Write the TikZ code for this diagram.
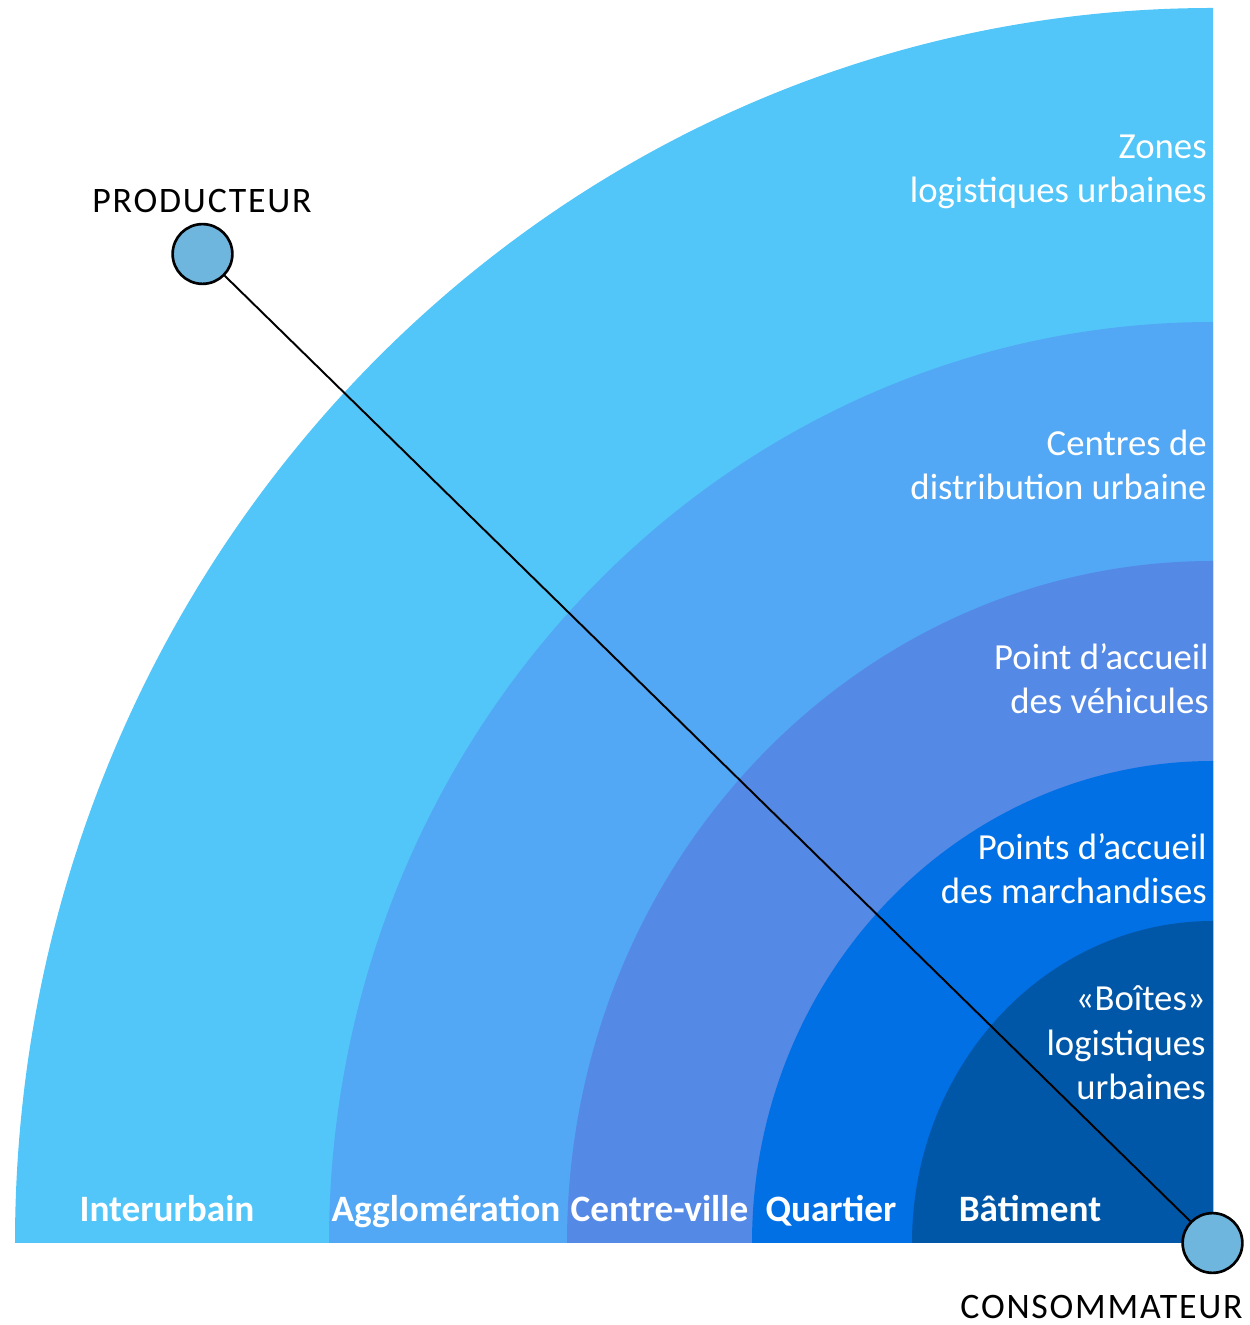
\documentclass[tikz,border=0pt]{standalone}
\usepackage{fontspec}
\setmainfont{Carlito}
\newfontfamily\spacedfont[LetterSpace=5]{Carlito}
\usepackage{xcolor}
\usetikzlibrary{positioning}

\definecolor{zoneblue}{RGB}{82,198,248}
\definecolor{agglblue}{RGB}{82,168,245}
\definecolor{centreblue}{RGB}{85,137,230}
\definecolor{quartblue}{RGB}{0,112,228}
\definecolor{batblue}{RGB}{0,87,168}
\definecolor{endblue}{RGB}{110,182,221}

\begin{document}
\begin{tikzpicture}[x=0.02cm, y=0.02cm,
    band/.style={draw=none},
    ringlabel/.style={text=white, align=right, anchor=base east, inner sep=0pt,
        font=\fontsize{20.9}{25.5}\selectfont},
    scalelabel/.style={text=white, anchor=base, inner sep=0pt,
        font=\fontsize{21.2}{25.5}\selectfont\bfseries},
    endpoint/.style={circle, draw, line width=1.5pt, fill=endblue, minimum size=34pt, inner sep=0pt},
    endlabel/.style={inner sep=0pt, font=\fontsize{20.4}{25.5}\spacedfont}]
    \useasboundingbox (0,0) rectangle (1250,1325);

    % Centre of the quarter rings
    \coordinate (c) at (1213,82);

    % Rings, outer to inner
    \fill[band, zoneblue]   (c) -- ++(-1198,0) arc[start angle=180, end angle=90, x radius=1198, y radius=1235] -- cycle;
    \fill[band, agglblue]   (c) -- ++(-884,0)  arc[start angle=180, end angle=90, x radius=884,  y radius=921]  -- cycle;
    \fill[band, centreblue] (c) -- ++(-646,0)  arc[start angle=180, end angle=90, x radius=646,  y radius=682]  -- cycle;
    \fill[band, quartblue]  (c) -- ++(-461,0)  arc[start angle=180, end angle=90, x radius=461,  y radius=482]  -- cycle;
    \fill[band, batblue]    (c) -- ++(-301,0)  arc[start angle=180, end angle=90, x radius=301,  y radius=322]  -- cycle;

    % Ring names (base = last line)
    \node[ringlabel] (zones)  at (1207,1122) {Zones\\logistiques urbaines};
    \node[ringlabel] (cdu)    at (1207,825)  {Centres de\\distribution urbaine};
    \node[ringlabel] (pav)    at (1209,611)  {Point d’accueil\\des véhicules};
    \node[ringlabel] (pam)    at (1207,421)  {Points d’accueil\\des marchandises};
    \node[ringlabel] (boites) at (1206,225)  {«Boîtes»\\logistiques\\urbaines};

    % Scale names along the bottom
    \node[scalelabel] (inter) at (167,103)   {Interurbain};
    \node[scalelabel] (agglo) at (446,103)   {Agglomération};
    \node[scalelabel] (cville) at (659.5,103) {Centre-ville};
    \node[scalelabel] (quart) at (831,103)   {Quartier};
    \node[scalelabel] (bat)   at (1030,103)  {Bâtiment};

    % Producer and consumer
    \node[endpoint] (prod) at (202.5,1071) {};
    \node[endpoint] (cons) at (1212.5,82) {};
    \node[endlabel, anchor=base] (prodlabel) at (202,1112) {PRODUCTEUR};
    \node[endlabel, anchor=base east] (conslabel) at (1243,7) {CONSOMMATEUR};

    \draw[line width=1.1pt] (prod) -- (cons);
\end{tikzpicture}
\end{document}
